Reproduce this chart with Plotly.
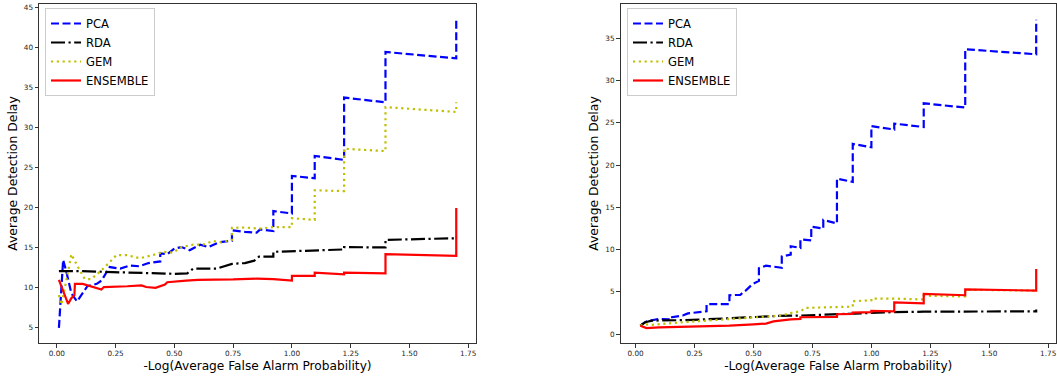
import plotly.graph_objects as go

# ---------------- data: left panel ----------------
pca_l_x = [0.009, 0.027, 0.04, 0.062, 0.086, 0.11, 0.13, 0.17, 0.19, 0.225, 0.27, 0.31, 0.35, 0.39, 0.44,
           0.44, 0.47, 0.50, 0.53, 0.565, 0.61, 0.645, 0.69, 0.745, 0.745, 0.80, 0.85, 0.865, 0.921, 0.921,
           1.0, 1.0, 1.097, 1.097, 1.222, 1.222, 1.398, 1.398, 1.699, 1.699]
pca_l_y = [4.9, 13.4, 12.0, 9.2, 8.2, 9.2, 10.1, 10.4, 10.8, 12.5, 12.3, 12.7, 12.6, 13.0, 13.2,
           14.2, 14.1, 14.8, 15.0, 14.6, 15.3, 15.0, 15.6, 15.8, 17.1, 16.9, 16.8, 17.2, 17.0, 19.5,
           19.2, 23.9, 23.6, 26.4, 25.9, 33.7, 33.1, 39.4, 38.6, 43.5]

rda_l_x = [0.009, 0.10, 0.20, 0.30, 0.40, 0.50, 0.555, 0.58, 0.68, 0.745, 0.80, 0.84, 0.86, 0.921, 0.921,
           1.0, 1.097, 1.222, 1.222, 1.398, 1.398, 1.699, 1.699]
rda_l_y = [12.0, 12.0, 11.9, 11.8, 11.75, 11.65, 11.7, 12.3, 12.3, 12.9, 13.0, 13.3, 13.8, 13.8, 14.4,
           14.5, 14.6, 14.7, 15.0, 14.95, 15.9, 16.1, 16.3]

gem_l_x = [0.009, 0.02, 0.041, 0.062, 0.09, 0.119, 0.147, 0.183, 0.218, 0.254, 0.296, 0.353, 0.41, 0.452,
           0.495, 0.53, 0.58, 0.622, 0.665, 0.70, 0.745, 0.745, 0.80, 0.86, 0.921, 1.0, 1.0, 1.097, 1.097,
           1.222, 1.222, 1.398, 1.398, 1.699, 1.699]
gem_l_y = [9.0, 7.8, 10.9, 14.1, 12.5, 11.0, 11.0, 11.9, 12.9, 14.0, 14.0, 13.6, 14.0, 14.4,
           14.3, 15.0, 15.3, 15.3, 15.75, 15.6, 15.9, 17.4, 17.45, 17.3, 17.5, 17.5, 18.6, 18.4, 22.1,
           22.0, 27.3, 27.0, 32.5, 31.9, 33.1]

ens_l_x = [0.009, 0.048, 0.062, 0.075, 0.077, 0.11, 0.19, 0.20, 0.30, 0.36, 0.38, 0.42, 0.46, 0.47, 0.55,
           0.60, 0.75, 0.85, 0.921, 1.0, 1.0, 1.097, 1.097, 1.222, 1.222, 1.398, 1.398, 1.699, 1.699]
ens_l_y = [10.9, 7.9, 8.6, 9.0, 10.4, 10.4, 9.7, 10.0, 10.1, 10.2, 10.0, 9.9, 10.3, 10.6, 10.8,
           10.9, 10.95, 11.05, 11.0, 10.8, 11.4, 11.4, 11.8, 11.6, 11.8, 11.7, 14.1, 13.9, 19.9]

# ---------------- data: right panel ----------------
pca_r_x = [0.02, 0.046, 0.097, 0.155, 0.155, 0.20, 0.222, 0.301, 0.301, 0.398, 0.398, 0.444, 0.469, 0.495,
           0.523, 0.523, 0.553, 0.62, 0.62, 0.658, 0.658, 0.699, 0.699, 0.745, 0.745, 0.796, 0.796, 0.854,
           0.854, 0.921, 0.921, 1.0, 1.0, 1.097, 1.097, 1.222, 1.222, 1.398, 1.398, 1.699, 1.699]
pca_r_y = [1.0, 1.5, 1.8, 1.75, 2.0, 2.2, 2.45, 2.7, 3.55, 3.55, 4.6, 4.65, 5.2, 5.9,
           6.3, 7.8, 8.1, 7.85, 9.2, 9.4, 10.4, 10.2, 11.2, 11.1, 12.7, 12.5, 13.5, 13.1,
           18.4, 18.0, 22.5, 22.1, 24.6, 24.2, 24.9, 24.5, 27.3, 26.8, 33.7, 33.1, 37.2]

rda_r_x = [0.02, 0.04, 0.07, 0.15, 0.20, 0.30, 0.40, 0.50, 0.60, 0.699, 0.796, 0.854, 0.921, 1.0, 1.097,
           1.222, 1.398, 1.699, 1.699]
rda_r_y = [1.0, 1.4, 1.6, 1.6, 1.65, 1.75, 1.9, 2.05, 2.15, 2.2, 2.3, 2.35, 2.45, 2.5, 2.6,
           2.65, 2.7, 2.7, 2.9]

gem_r_x = [0.02, 0.04, 0.07, 0.10, 0.155, 0.222, 0.301, 0.398, 0.469, 0.553, 0.62, 0.658, 0.699, 0.72,
           0.854, 0.921, 0.921, 1.0, 1.0, 1.097, 1.222, 1.222, 1.398, 1.398, 1.699, 1.699]
gem_r_y = [1.0, 1.15, 1.1, 1.15, 1.3, 1.45, 1.6, 1.75, 1.85, 2.0, 2.2, 2.5, 2.7, 3.1,
           3.2, 3.25, 3.9, 4.0, 4.2, 4.2, 4.1, 4.55, 4.45, 5.25, 5.15, 5.3]

ens_r_x = [0.02, 0.046, 0.10, 0.20, 0.301, 0.398, 0.50, 0.553, 0.585, 0.62, 0.658, 0.699, 0.699, 0.854,
           0.854, 0.921, 0.921, 1.0, 1.0, 1.097, 1.097, 1.222, 1.222, 1.398, 1.398, 1.699, 1.699]
ens_r_y = [1.0, 0.72, 0.8, 0.85, 0.9, 1.0, 1.15, 1.25, 1.5, 1.65, 1.75, 1.8, 2.0, 2.05,
           2.35, 2.4, 2.55, 2.6, 2.75, 2.7, 3.75, 3.65, 4.75, 4.6, 5.3, 5.15, 7.7]

names = ["PCA", "RDA", "GEM", "ENSEMBLE"]
x_ticks = [0.0, 0.25, 0.5, 0.75, 1.0, 1.25, 1.5, 1.75]
x_tick_text = ["0.00", "0.25", "0.50", "0.75", "1.00", "1.25", "1.50", "1.75"]
y_ticks_left = [5, 10, 15, 20, 25, 30, 35, 40, 45]
y_ticks_right = [0, 5, 10, 15, 20, 25, 30, 35]
x_title = "-Log(Average False Alarm Probability)"
y_title = "Average Detection Delay"

# ---------------- styles ----------------
styles = {
    "PCA": dict(color="#0000ff", width=2.2, dash="8px,3.5px"),
    "RDA": dict(color="#000000", width=2.2, dash="14px,3.5px,2.2px,3.5px"),
    "GEM": dict(color="#bfbf00", width=2.2, dash="2.2px,3.6px"),
    "ENSEMBLE": dict(color="#ff0000", width=2.2, dash="solid"),
}

FONT = "DejaVu Sans"
W, H = 1057, 379
ML, MR, MT, MB = 39, 1, 4, 36
PW = W - ML - MR
PH = H - MT - MB

fig = go.Figure()

left = [(pca_l_x, pca_l_y), (rda_l_x, rda_l_y), (gem_l_x, gem_l_y), (ens_l_x, ens_l_y)]
right = [(pca_r_x, pca_r_y), (rda_r_x, rda_r_y), (gem_r_x, gem_r_y), (ens_r_x, ens_r_y)]

for name, (xs, ys) in zip(names, left):
    fig.add_trace(go.Scatter(x=xs, y=ys, mode="lines", name=name, line=styles[name],
                             xaxis="x", yaxis="y", legend="legend"))
for name, (xs, ys) in zip(names, right):
    fig.add_trace(go.Scatter(x=xs, y=ys, mode="lines", name=name, line=styles[name],
                             xaxis="x2", yaxis="y2", legend="legend2"))

axis_common = dict(
    showgrid=False, zeroline=False, showline=True, mirror=True,
    linecolor="#333333", linewidth=1,
    ticks="outside", ticklen=3.5, tickwidth=0.8, tickcolor="#333333",
    tickfont=dict(family=FONT, size=7.3, color="#262626"),
    automargin=False,
)

left_x_dom = [0, (476 - ML) / PW]
right_x_dom = [(620.5 - ML) / PW, 1]

legend_common = dict(
    xref="paper", yref="paper", xanchor="left", yanchor="top",
    bgcolor="rgba(255,255,255,0.8)", bordercolor="#cccccc", borderwidth=1,
    itemwidth=30,
    font=dict(family=FONT, size=11.6, color="#000000"),
)

fig.update_layout(
    width=W, height=H,
    margin=dict(l=ML, r=MR, t=MT, b=MB, autoexpand=False),
    paper_bgcolor="white", plot_bgcolor="white",
    font=dict(family=FONT, color="#000000"),
    xaxis=dict(axis_common, domain=left_x_dom, range=[-0.0757, 1.783], anchor="y",
               tickvals=x_ticks, ticktext=x_tick_text,
               title=dict(text=x_title, font=dict(family=FONT, size=12.2), standoff=4)),
    yaxis=dict(axis_common, domain=[0, 1], range=[3.0, 45.4], anchor="x",
               tickvals=y_ticks_left,
               title=dict(text=y_title, font=dict(family=FONT, size=12.4), standoff=3)),
    xaxis2=dict(axis_common, domain=right_x_dom, range=[-0.064, 1.783], anchor="y2",
                tickvals=x_ticks, ticktext=x_tick_text,
                title=dict(text=x_title, font=dict(family=FONT, size=12.2), standoff=4)),
    yaxis2=dict(axis_common, domain=[0, 1], range=[-1.05, 39.05], anchor="x2",
                tickvals=y_ticks_right,
                title=dict(text=y_title, font=dict(family=FONT, size=12.4), standoff=3)),
    legend=dict(legend_common, x=(45 - ML) / PW, y=(H - MB - 8) / PH),
    legend2=dict(legend_common, x=(627 - ML) / PW, y=(H - MB - 8) / PH),
)

fig.write_html("out.html")
